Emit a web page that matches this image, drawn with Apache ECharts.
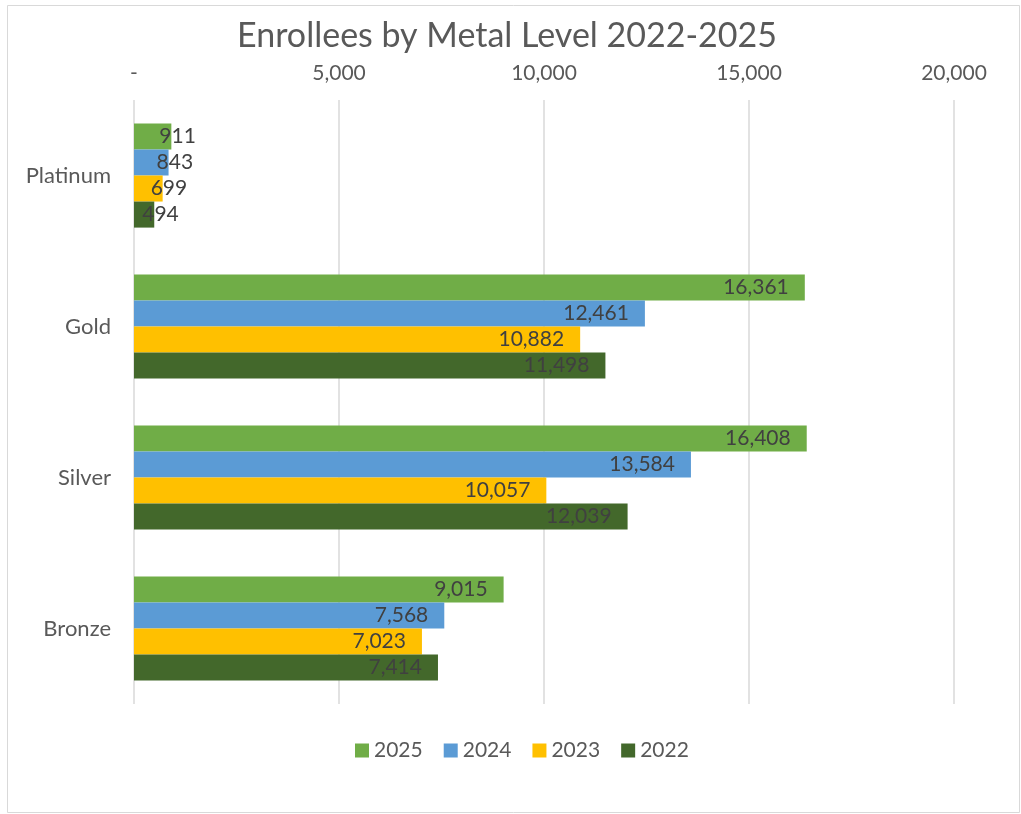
<!DOCTYPE html>
<html>
<head>
<meta charset="utf-8">
<script src="https://cdn.jsdelivr.net/npm/echarts@6/dist/echarts.min.js"></script>
<style>
html,body{margin:0;padding:0;background:#fff;}
#chart{width:1021px;height:814px;}
</style>
</head>
<body>
<div id="chart"></div>
<script>
const categories = ['Platinum', 'Gold', 'Silver', 'Bronze'];
const years = ['2025', '2024', '2023', '2022'];
const values2025 = [911, 16361, 16408, 9015];
const values2024 = [843, 12461, 13584, 7568];
const values2023 = [699, 10882, 10057, 7023];
const values2022 = [494, 11498, 12039, 7414];
const xTicks = [0, 5000, 10000, 15000, 20000];

const seriesValues = [values2025, values2024, values2023, values2022];
const colors = ['#70ad47', '#5b9bd5', '#ffc000', '#43682b'];
const FONT = 'Lato, "Open Sans", sans-serif';

function fmt(v) {
  return v === 0 ? '-' : v.toLocaleString('en-US');
}

const chart = echarts.init(document.getElementById('chart'));
chart.setOption({
  animation: false,
  backgroundColor: '#ffffff',
  textStyle: { fontFamily: FONT },
  graphic: [{
    type: 'rect',
    shape: { x: 7.5, y: 5.5, width: 1012, height: 807 },
    style: { fill: 'none', stroke: '#d9d9d9', lineWidth: 1 },
    silent: true
  }],
  title: {
    text: 'Enrollees by Metal Level 2022-2025',
    left: 502,
    textAlign: 'center',
    top: 14,
    textStyle: { fontFamily: FONT, fontSize: 34, fontWeight: 'normal', color: '#595959' }
  },
  legend: {
    data: years,
    bottom: 48,
    left: 350,
    icon: 'rect',
    itemWidth: 14,
    itemHeight: 14,
    itemGap: 21,
    textStyle: { fontFamily: FONT, fontSize: 21, color: '#595959' }
  },
  grid: { left: 134, right: 67, top: 100, bottom: 110, containLabel: false },
  xAxis: {
    type: 'value',
    position: 'top',
    min: xTicks[0],
    max: xTicks[xTicks.length - 1],
    interval: xTicks[1] - xTicks[0],
    axisLine: { show: false },
    axisTick: { show: false },
    axisLabel: { formatter: fmt, fontFamily: FONT, fontSize: 21, color: '#595959', margin: 16 },
    splitLine: { show: true, lineStyle: { color: '#d9d9d9', width: 1.5 } }
  },
  yAxis: {
    type: 'category',
    inverse: true,
    data: categories,
    axisLine: { show: false },
    axisTick: { show: false },
    axisLabel: { fontFamily: FONT, fontSize: 22, color: '#595959', margin: 23 }
  },
  series: years.map((y, i) => ({
    name: y,
    type: 'bar',
    barGap: '0%',
    barCategoryGap: '31%',
    itemStyle: { color: colors[i] },
    label: {
      show: true,
      position: 'insideRight',
      distance: 16,
      formatter: p => fmt(p.value),
      fontFamily: FONT,
      fontSize: 21,
      color: '#404040'
    },
    data: seriesValues[i].map(v => v < 2000
      ? { value: v, label: { position: 'right', distance: 0, offset: [-12, 0] } }
      : v)
  }))
});
</script>
</body>
</html>
